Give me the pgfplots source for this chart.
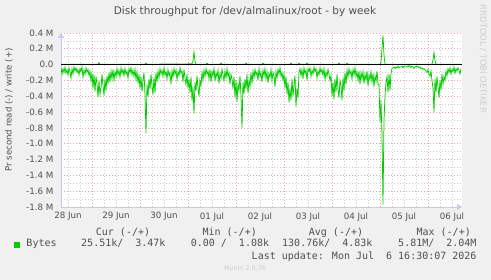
\documentclass[border=0pt]{standalone}
\usepackage{fontspec}
\setmainfont{DejaVu Sans}
\newfontfamily\monofont{DejaVu Sans Mono}
\usepackage{pgfplots}
\pgfplotsset{compat=1.18}
\usetikzlibrary{arrows.meta}
\definecolor{bg}{RGB}{240,240,240}
\definecolor{mgrid}{RGB}{232,165,165}
\definecolor{ngrid}{RGB}{205,205,205}
\definecolor{axblue}{RGB}{200,200,242}
\definecolor{munin}{RGB}{0,204,0}
\definecolor{txt}{RGB}{80,80,80}
\definecolor{ltxt}{RGB}{205,205,205}
\begin{document}
\begin{tikzpicture}[x=1pt,y=1pt]
\fill[bg] (0,0) rectangle (491,280);
\useasboundingbox (0,0) rectangle (491,280);
\begin{axis}[
  at={(61pt,73pt)}, anchor=south west, scale only axis,
  width=401pt, height=174pt,
  xmin=8.5, xmax=209, ymin=-1.8, ymax=0.4,
  axis background/.style={fill=white},
  axis x line=bottom, axis y line=left,
  axis line style={draw=axblue, line width=0.8pt},
  x axis line style={-{Triangle[length=5pt,width=6pt]}},
  y axis line style={-{Triangle[length=5pt,width=6pt]}},
  xtick={12,36,60,84,108,132,156,180,204},
  xticklabels={28 Jun,29 Jun,30 Jun,01 Jul,02 Jul,03 Jul,04 Jul,05 Jul,06 Jul},
  minor xtick={18,30,42,54,66,78,90,102,114,126,138,150,162,174,186,198},
  extra x ticks={24,48,72,96,120,144,168,192},
  extra x tick labels={},
  extra x tick style={grid=major, major x grid style={mgrid, dash pattern=on 1pt off 2pt, line width=0.7pt}},
  ytick={-1.8,-1.6,-1.4,-1.2,-1,-0.8,-0.6,-0.4,-0.2,0,0.2,0.4},
  yticklabels={-1.8 M,-1.6 M,-1.4 M,-1.2 M,-1.0 M,-0.8 M,-0.6 M,-0.4 M,-0.2 M,0.0,0.2 M,0.4 M},
  minor ytick={-1.7,-1.5,-1.3,-1.1,-0.9,-0.7,-0.5,-0.3,-0.1,0.1,0.3},
  grid=both,
  major x grid style={ngrid, dash pattern=on 1pt off 2pt, line width=0.7pt},
  major y grid style={mgrid, dash pattern=on 1pt off 2pt, line width=0.7pt},
  minor grid style={ngrid, dash pattern=on 1pt off 2pt, line width=0.7pt},
  major tick length=0pt, minor tick length=0pt,
  tick style={draw=none},
  tick label style={font=\fontsize{8.7}{10}\selectfont, text=txt},
  yticklabel style={xshift=-4pt},
  xticklabel style={yshift=-2pt},
]
\addplot[munin, line width=0.75pt] coordinates {
(8.5,0.005) (27,0.005) (27.5,0.025) (28,0.005) (50.5,0.005) (51,0.02) (51.5,0.005)
(74,0.01) (74.5,0.05) (75,0.16) (75.5,0.04) (76,0.005) (81,0.005) (81.5,0.02) (82,0.005)
(88,0.005) (88.5,0.02) (89,0.005) (100.5,0.005) (101,0.02) (101.5,0.005)
(109,0.005) (109.5,0.02) (110,0.005) (123,0.005) (123.5,0.02) (124,0.005)
(127,0.005) (127.5,0.02) (128,0.005) (131,0.005) (131.5,0.02) (132,0.005)
(147,0.005) (147.5,0.02) (148,0.005) (151,0.005) (151.5,0.02) (152,0.005)
(168,0.005) (168.5,0.03) (169,0.20) (169.5,0.37) (170,0.12) (170.5,0.005)
(194,0.005) (194.5,0.06) (195,0.15) (195.5,0.05) (196,0.005) (208.5,0.005)
};
\addplot[munin, line width=0.75pt] coordinates {
(8.5,-0.04) (9,-0.12) (9.5,-0.05) (10,-0.10) (10.5,-0.03) (11,-0.11) (11.5,-0.06) (12,-0.13)
(12.5,-0.04) (13,-0.09) (13.5,-0.17) (14,-0.05) (14.5,-0.12) (15,-0.03) (15.5,-0.08) (16,-0.04)
(16.5,-0.10) (17,-0.06) (17.5,-0.13) (18,-0.05) (18.5,-0.09) (19,-0.03) (19.5,-0.16) (20,-0.07)
(20.5,-0.12) (21,-0.04) (21.5,-0.10) (22,-0.06) (22.5,-0.14) (23,-0.08) (23.5,-0.22) (24,-0.10)
(24.5,-0.30) (25,-0.12) (25.5,-0.34) (26,-0.15) (26.5,-0.25) (27,-0.41) (27.5,-0.20) (28,-0.38)
(28.5,-0.29) (29,-0.12) (29.5,-0.27) (30,-0.39) (30.5,-0.18) (31,-0.33) (31.5,-0.14) (32,-0.25)
(32.5,-0.10) (33,-0.22) (33.5,-0.08) (34,-0.18) (34.5,-0.06) (35,-0.20) (35.5,-0.09) (36,-0.15)
(36.5,-0.05) (37,-0.13) (37.5,-0.07) (38,-0.16) (38.5,-0.04) (39,-0.11) (39.5,-0.06) (40,-0.14)
(40.5,-0.05) (41,-0.12) (41.5,-0.08) (42,-0.17) (42.5,-0.05) (43,-0.10) (43.5,-0.04) (44,-0.13)
(44.5,-0.07) (45,-0.15) (45.5,-0.06) (46,-0.19) (46.5,-0.09) (47,-0.24) (47.5,-0.12) (48,-0.30)
(48.5,-0.15) (49,-0.34) (49.5,-0.20) (50,-0.10) (50.5,-0.38) (51,-0.87) (51.5,-0.25) (52,-0.40)
(52.5,-0.18) (53,-0.31) (53.5,-0.12) (54,-0.27) (54.5,-0.38) (55,-0.16) (55.5,-0.36) (56,-0.10)
(56.5,-0.22) (57,-0.08) (57.5,-0.17) (58,-0.05) (58.5,-0.12) (59,-0.07) (59.5,-0.15) (60,-0.04)
(60.5,-0.13) (61,-0.09) (61.5,-0.18) (62,-0.06) (62.5,-0.14) (63,-0.10) (63.5,-0.25) (64,-0.08)
(64.5,-0.16) (65,-0.05) (65.5,-0.12) (66,-0.07) (66.5,-0.19) (67,-0.09) (67.5,-0.14) (68,-0.04)
(68.5,-0.11) (69,-0.08) (69.5,-0.22) (70,-0.06) (70.5,-0.17) (71,-0.25) (71.5,-0.12) (72,-0.30)
(72.5,-0.18) (73,-0.36) (73.5,-0.15) (74,-0.46) (74.5,-0.28) (75,-0.62) (75.5,-0.22) (76,-0.33)
(76.5,-0.14) (77,-0.29) (77.5,-0.40) (78,-0.20) (78.5,-0.26) (79,-0.10) (79.5,-0.20) (80,-0.07)
(80.5,-0.15) (81,-0.05) (81.5,-0.12) (82,-0.08) (82.5,-0.18) (83,-0.06) (83.5,-0.22) (84,-0.09)
(84.5,-0.14) (85,-0.05) (85.5,-0.21) (86,-0.10) (86.5,-0.16) (87,-0.07) (87.5,-0.24) (88,-0.11)
(88.5,-0.18) (89,-0.06) (89.5,-0.13) (90,-0.20) (90.5,-0.08) (91,-0.17) (91.5,-0.05) (92,-0.15)
(92.5,-0.10) (93,-0.25) (93.5,-0.12) (94,-0.19) (94.5,-0.30) (95,-0.15) (95.5,-0.42) (96,-0.20)
(96.5,-0.47) (97,-0.25) (97.5,-0.33) (98,-0.14) (98.5,-0.40) (99,-0.80) (99.5,-0.22) (100,-0.37)
(100.5,-0.18) (101,-0.31) (101.5,-0.12) (102,-0.36) (102.5,-0.20) (103,-0.28) (103.5,-0.10) (104,-0.24)
(104.5,-0.08) (105,-0.17) (105.5,-0.06) (106,-0.13) (106.5,-0.09) (107,-0.20) (107.5,-0.05) (108,-0.15)
(108.5,-0.10) (109,-0.22) (109.5,-0.07) (110,-0.14) (110.5,-0.05) (111,-0.18) (111.5,-0.09) (112,-0.23)
(112.5,-0.11) (113,-0.16) (113.5,-0.06) (114,-0.20) (114.5,-0.10) (115,-0.14) (115.5,-0.28) (116,-0.09)
(116.5,-0.17) (117,-0.06) (117.5,-0.12) (118,-0.04) (118.5,-0.15) (119,-0.10) (119.5,-0.20) (120,-0.12)
(120.5,-0.30) (121,-0.15) (121.5,-0.38) (122,-0.22) (122.5,-0.48) (123,-0.30) (123.5,-0.45) (124,-0.18)
(124.5,-0.40) (125,-0.25) (125.5,-0.14) (126,-0.53) (126.5,-0.30) (127,-0.42) (127.5,-0.10) (128,-0.05)
(128.5,-0.14) (129,-0.06) (129.5,-0.18) (130,-0.04) (130.5,-0.11) (131,-0.07) (131.5,-0.20) (132,-0.05)
(132.5,-0.09) (133,-0.04) (133.5,-0.15) (134,-0.07) (134.5,-0.12) (135,-0.03) (135.5,-0.09) (136,-0.05)
(136.5,-0.17) (137,-0.08) (137.5,-0.13) (138,-0.04) (138.5,-0.10) (139,-0.06) (139.5,-0.14) (140,-0.05)
(140.5,-0.19) (141,-0.09) (141.5,-0.15) (142,-0.06) (142.5,-0.12) (143,-0.20) (143.5,-0.14) (144,-0.40)
(144.5,-0.22) (145,-0.44) (145.5,-0.18) (146,-0.35) (146.5,-0.12) (147,-0.30) (147.5,-0.42) (148,-0.20)
(148.5,-0.26) (149,-0.45) (149.5,-0.16) (150,-0.33) (150.5,-0.10) (151,-0.25) (151.5,-0.07) (152,-0.16)
(152.5,-0.05) (153,-0.12) (153.5,-0.08) (154,-0.18) (154.5,-0.06) (155,-0.13) (155.5,-0.04) (156,-0.15)
(156.5,-0.09) (157,-0.20) (157.5,-0.08) (158,-0.25) (158.5,-0.10) (159,-0.18) (159.5,-0.09) (160,-0.24)
(160.5,-0.12) (161,-0.20) (161.5,-0.08) (162,-0.27) (162.5,-0.13) (163,-0.19) (163.5,-0.09) (164,-0.22)
(164.5,-0.11) (165,-0.28) (165.5,-0.14) (166,-0.21) (166.5,-0.08) (167,-0.25) (167.5,-0.25) (168,-0.73)
(168.5,-0.45) (169,-0.90) (169.5,-1.77) (170,-0.70) (170.5,-0.40) (171,-0.22) (171.5,-0.15) (172,-0.35)
(172.5,-0.12) (173,-0.33) (173.5,-0.10) (174,-0.05) (174.5,-0.04) (175,-0.03) (175.5,-0.05) (176,-0.03)
(176.5,-0.04) (177,-0.02) (177.5,-0.04) (178,-0.03) (178.5,-0.03) (179,-0.02) (179.5,-0.04) (180,-0.02)
(180.5,-0.03) (181,-0.03) (181.5,-0.02) (182,-0.03) (182.5,-0.01) (183,-0.02) (183.5,-0.04) (184,-0.02)
(184.5,-0.03) (185,-0.05) (185.5,-0.03) (186,-0.02) (186.5,-0.03) (187,-0.02) (187.5,-0.04) (188,-0.03)
(188.5,-0.05) (189,-0.04) (189.5,-0.06) (190,-0.05) (190.5,-0.07) (191,-0.08) (191.5,-0.10) (192,-0.06)
(192.5,-0.12) (193,-0.15) (193.5,-0.08) (194,-0.20) (194.5,-0.30) (195,-0.60) (195.5,-0.18) (196,-0.35)
(196.5,-0.15) (197,-0.28) (197.5,-0.42) (198,-0.20) (198.5,-0.32) (199,-0.12) (199.5,-0.25) (200,-0.15)
(200.5,-0.20) (201,-0.08) (201.5,-0.14) (202,-0.05) (202.5,-0.10) (203,-0.04) (203.5,-0.12) (204,-0.06)
(204.5,-0.09) (205,-0.03) (205.5,-0.11) (206,-0.05) (206.5,-0.08) (207,-0.04) (207.5,-0.07) (208,-0.12)
(208.5,-0.05)
};
\addplot[black, line width=1pt] coordinates {(8.5,0) (209,0)};
\end{axis}
\node[text=txt, font=\fontsize{10.5}{12}\selectfont] at (245,268) {Disk throughput for /dev/almalinux/root - by week};
\node[rotate=90, text=txt, font=\fontsize{8.6}{10}\selectfont] at (9,170) {Pr second read (-) / write (+)};
\node[rotate=-90, text=ltxt, font=\fontsize{8.4}{10}\selectfont] at (483,221) {RRDTOOL / TOBI OETIKER};
\begin{scope}[every node/.style={inner sep=0pt, text=txt, font=\monofont\fontsize{10}{12}\selectfont}]
\node[anchor=base east] at (150.3,44.3) {Cur (-/+)};
\node[anchor=base east] at (257,44.3) {Min (-/+)};
\node[anchor=base east] at (363.3,44.3) {Avg (-/+)};
\node[anchor=base east] at (471,44.3) {Max (-/+)};
\node[anchor=base west] at (26.3,33) {Bytes};
\node[anchor=base east] at (165.7,33) {25.51k/\ \ 3.47k};
\node[anchor=base east] at (269.3,33) {0.00 /\ \ 1.08k};
\node[anchor=base east] at (372.7,33) {130.76k/\ \ 4.83k};
\node[anchor=base east] at (476.7,33) {5.81M/\ \ 2.04M};
\node[anchor=base east] at (476.7,20) {Last update: Mon Jul\ \ 6 16:30:07 2026};
\end{scope}
\fill[munin] (14,32.3) rectangle (20,38.3);
\node[anchor=base, inner sep=0pt, text=ltxt, font=\fontsize{6.4}{8}\selectfont] at (245,9.5) {Munin 2.0.76};
\end{tikzpicture}
\end{document}
